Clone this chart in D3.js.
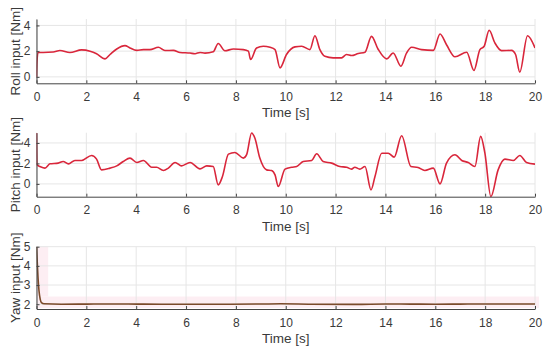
<!DOCTYPE html>
<html><head><meta charset="utf-8">
<script src="https://cdn.jsdelivr.net/npm/d3@7"></script>
<style>body{margin:0;background:#fff}svg{display:block}</style>
</head><body>
<svg id="c" width="550" height="353"></svg>
<script>
const xTicks = [0,2,4,6,8,10,12,14,16,18,20];
const rollTicks = [0,2,4];
const pitchTicks = [0,2,4];
const yawTicks = [2,3,4,5];
const roll = [[0,0],[0.02,1.2],[0.06,1.9],[0.27,1.9],[0.67,1.93],[0.94,2.05],[1.34,1.9],[1.81,2.1],[2.15,2.0],[2.41,1.8],[2.75,1.4],[2.95,1.74],[3.22,2.17],[3.55,2.43],[3.75,2.25],[4.02,2.06],[4.29,2.12],[4.55,2.12],[4.89,2.3],[5.15,2.05],[5.49,2.06],[5.76,1.9],[6.16,1.85],[6.36,1.8],[6.56,1.9],[6.76,1.85],[7.09,1.95],[7.29,2.6],[7.56,2.03],[7.9,2.17],[8.3,2.12],[8.5,2.0],[8.59,1.35],[8.83,2.25],[9.1,2.38],[9.37,2.3],[9.57,2.12],[9.77,0.7],[10.03,1.74],[10.37,2.33],[10.64,2.38],[10.97,2.12],[11.17,3.2],[11.37,2.12],[11.57,1.6],[11.9,1.48],[12.24,1.48],[12.44,1.74],[12.64,1.66],[12.91,1.82],[13.18,1.92],[13.44,3.15],[13.7,2.17],[14.05,1.4],[14.31,1.86],[14.62,0.83],[14.85,1.86],[15.05,2.3],[15.45,2.12],[15.92,2.06],[16.19,3.33],[16.45,2.5],[16.79,1.56],[17.26,1.92],[17.55,0.5],[17.79,2.12],[17.96,2.38],[18.16,3.62],[18.39,2.64],[18.66,2.04],[19.06,2.06],[19.22,1.74],[19.39,0.37],[19.7,3.2],[20,2.25]];
const pitch = [[0,4.97],[0.02,1.86],[0.14,1.7],[0.34,1.54],[0.54,1.96],[0.87,2.03],[1.07,2.19],[1.28,1.96],[1.54,2.29],[1.81,2.29],[2.21,2.78],[2.41,2.42],[2.61,1.37],[2.95,1.54],[3.22,1.76],[3.48,2.19],[3.75,2.52],[4.02,2.09],[4.29,2.29],[4.62,1.63],[4.82,1.63],[5.09,1.31],[5.29,1.54],[5.56,2.09],[5.82,1.76],[6.16,2.09],[6.56,1.47],[6.83,1.76],[7.09,1.7],[7.29,-0.1],[7.46,0.72],[7.7,2.91],[7.96,3.07],[8.3,2.52],[8.43,2.85],[8.63,4.97],[8.76,4.48],[8.96,2.52],[9.23,1.37],[9.43,1.31],[9.57,0.88],[9.7,-0.26],[9.97,1.44],[10.24,1.63],[10.44,1.7],[10.7,2.19],[11.04,2.29],[11.24,2.94],[11.5,2.19],[11.84,2.03],[12.17,1.7],[12.44,1.63],[12.64,1.44],[12.77,1.63],[12.97,1.44],[13.18,1.7],[13.42,-0.59],[13.58,0.72],[13.85,3.0],[14.11,3.0],[14.35,2.61],[14.65,4.7],[15.02,1.7],[15.31,1.6],[15.58,1.31],[15.92,1.54],[16.19,0.0],[16.45,2.03],[16.79,2.84],[17.06,2.29],[17.32,2.09],[17.59,1.7],[17.82,4.64],[17.99,3.0],[18.23,-1.24],[18.52,1.37],[18.79,2.42],[19.13,2.29],[19.39,2.78],[19.66,2.09],[20,1.93]];
const yaw = [[0,5],[0.03,4.2],[0.06,3.4],[0.1,2.7],[0.15,2.25],[0.2,2.08],[0.3,2.02],[1,2.0],[3,2.01],[5,2.0],[7,2.0],[9,2.01],[9.8,2.02],[11,2.0],[12.8,1.99],[14,2.01],[16,2.0],[18,2.01],[20,2.01]];

const svg = d3.select("#c");
const X0 = 36.5, X1 = 535;
const x = d3.scaleLinear().domain([0,20]).range([X0,X1]);
const panels = [
  {top:19, bot:83.3, dom:[-0.5,4.5], ticks:rollTicks, data:roll, label:"Roll input [Nm]", color:"#d9263b"},
  {top:132.7, bot:196.7, dom:[-1.25,5], ticks:pitchTicks, data:pitch, label:"Pitch input [Nm]", color:"#d9263b"},
  {top:246.7, bot:309, dom:[1.75,5], ticks:yawTicks, data:yaw, label:"Yaw input [Nm]", color:"#7b4a2a", band:true}
];
const txt = "#3a3a3a";
const font = "Liberation Sans, Arial, Helvetica, sans-serif";
panels.forEach((p,i)=>{
  const y = d3.scaleLinear().domain(p.dom).range([p.bot,p.top]);
  const g = svg.append("g");
  const id = "clip"+i;
  svg.append("clipPath").attr("id",id).append("rect").attr("x",X0).attr("y",p.top-1).attr("width",X1-X0).attr("height",p.bot-p.top+2);
  if(p.band){
    g.append("rect").attr("x",x(0)).attr("y",y(2.4)).attr("width",X1-X0+4).attr("height",y(1.8)-y(2.4)).attr("fill","#fdeef3");
    g.append("rect").attr("x",x(0)).attr("y",p.top).attr("width",x(0.47)-x(0)).attr("height",y(2.4)-p.top).attr("fill","#fdeef3");
  }
  // grid
  g.selectAll(".gx").data(xTicks).join("line").attr("x1",d=>x(d)).attr("x2",d=>x(d)).attr("y1",p.top).attr("y2",p.bot).attr("stroke","#e6e6e6").attr("stroke-width",1);
  g.selectAll(".gy").data(p.ticks).join("line").attr("x1",X0).attr("x2",X1).attr("y1",d=>y(d)).attr("y2",d=>y(d)).attr("stroke","#e6e6e6").attr("stroke-width",1);
  // line
  const line = d3.line().x(d=>x(d[0])).y(d=>y(d[1])).curve(d3.curveMonotoneX);
  g.append("path").datum(p.data).attr("d",line).attr("fill","none").attr("stroke",p.color).attr("stroke-width",1.6).attr("clip-path",`url(#${id})`);
  // axes
  const ax = d3.axisBottom(x).tickValues(xTicks).tickSizeInner(-3).tickSizeOuter(0).tickPadding(9).tickFormat(d3.format("d"));
  const gx = g.append("g").attr("transform",`translate(0,${p.bot})`).call(ax);
  const ay = d3.axisLeft(y).tickValues(p.ticks).tickSizeInner(-3).tickSizeOuter(0).tickPadding(6).tickFormat(d3.format("d"));
  const gy = g.append("g").attr("transform",`translate(${X0},0)`).call(ay);
  [gx,gy].forEach(a=>{
    a.select(".domain").attr("stroke","#444").attr("stroke-width",1);
    a.selectAll(".tick line").attr("stroke","#444");
    a.selectAll(".tick text").attr("fill",txt).attr("font-size","12px").attr("font-family",font);
  });
  g.append("text").attr("x",(X0+X1)/2).attr("y",p.bot+34).attr("text-anchor","middle").attr("fill",txt).attr("font-size","13.5px").attr("font-family",font).text("Time [s]");
  g.append("text").attr("transform",`translate(20,${(p.top+p.bot)/2}) rotate(-90)`).attr("text-anchor","middle").attr("fill",txt).attr("font-size","13.5px").attr("font-family",font).text(p.label);
});
</script>
</body></html>
